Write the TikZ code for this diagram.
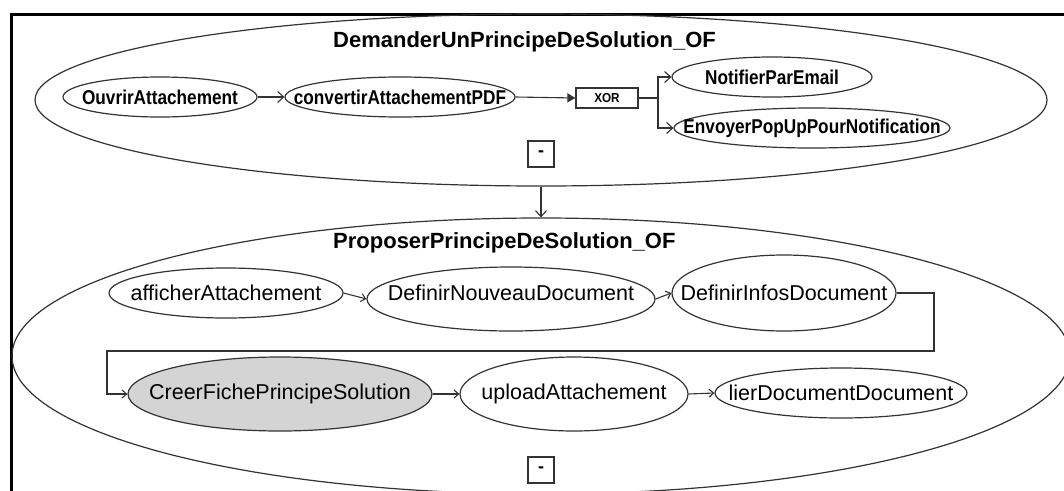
\documentclass[tikz,border=0pt]{standalone}
\usepackage{fontspec}
\setmainfont{Liberation Sans}
\usetikzlibrary{shapes.geometric,arrows.meta}
\definecolor{ln}{HTML}{333333}
\definecolor{gfill}{HTML}{D4D4D4}
\tikzset{
  ell/.style={ellipse,draw=ln,line width=1.2pt,inner sep=0pt},
  cont/.style={ellipse,draw=ln,line width=1.2pt,inner sep=0pt},
  toptxt/.style={inner sep=0pt,font=\fontsize{20}{24}\selectfont\bfseries},
  bottxt/.style={inner sep=0pt,font=\fontsize{21.5}{26}\selectfont},
  title/.style={inner sep=0pt,anchor=base west,font=\fontsize{22}{26}\selectfont\bfseries},
  chev/.style={draw=ln,line width=1.1pt,-{Straight Barb[length=6pt,width=11pt,line width=1.1pt]}},
  sarr/.style={draw=ln,line width=1.1pt,-{Straight Barb[length=4.5pt,width=8pt,line width=1.1pt]}},
  tarr/.style={draw=ln,line width=1.1pt,-{Triangle[length=8pt,width=9pt]}},
  minusbox/.style={draw=ln,line width=1.2pt,minimum width=26pt,minimum height=26pt,inner sep=0pt,font=\fontsize{18}{18}\selectfont\bfseries},
  xorbox/.style={draw=ln,line width=1.2pt,minimum width=62pt,minimum height=20pt,inner sep=0pt,font=\fontsize{13}{13}\selectfont\bfseries}
}
\newcommand{\cnd}[1]{\scalebox{0.86}[1]{#1}}
\begin{document}
\begin{tikzpicture}[x=1pt,y=-1pt]
\useasboundingbox (0,0) rectangle (1064,490);
\clip (0,0) rectangle (1064,490);
\fill[white] (0,0) rectangle (1064,490);
% frame
\draw[black,line width=3pt] (11.5,492) -- (11.5,14) -- (1066,14);

% top container
\node[cont,minimum width=1012pt,minimum height=172pt] (topc) at (541,100) {};
\node[title] (toptitle) at (333,47) {DemanderUnPrincipeDeSolution\_OF};
\node[ell,minimum width=194pt,minimum height=40pt] (ouv) at (160,97) {};
\node[toptxt] at (ouv.center) {\cnd{OuvrirAttachement}};
\node[ell,minimum width=230pt,minimum height=40pt] (conv) at (400,97) {};
\node[toptxt] at (conv.center) {\cnd{convertirAttachementPDF}};
\node[xorbox] (xor) at (607,98) {\scalebox{0.9}[1]{XOR}};
\node[ell,minimum width=200pt,minimum height=40pt] (notif) at (772,77) {};
\node[toptxt] at (notif.center) {\cnd{NotifierParEmail}};
\node[ell,minimum width=276pt,minimum height=40pt] (env) at (812,128) {};
\node[toptxt] at (env.center) {\cnd{EnvoyerPopUpPourNotification}};
\node[minusbox] (m1) at (541,154) {-};
\coordinate (br) at (658,98);
\draw[chev] (ouv.east) -- (conv.west);
\draw[tarr] (conv.east) -- (xor.west);
\draw[draw=ln,line width=1.1pt] (xor.east) -- (br);
\draw[chev] (br) |- (notif.west);
\draw[chev] (br) |- (env.west);

% bottom container
\node[cont,minimum width=1058pt,minimum height=276pt] (botc) at (541,356) {};
\node[title] (bottitle) at (333,248) {ProposerPrincipeDeSolution\_OF};
\draw[chev] (topc.south) -- (botc.north);

\node[ell,minimum width=234pt,minimum height=50pt] (af) at (226,293) {};
\node[bottxt] at (af.center) {afficherAttachement};
\node[ell,minimum width=288pt,minimum height=64pt] (dn) at (511,299) {};
\node[bottxt] at (511,293) {DefinirNouveauDocument};
\node[ell,minimum width=224pt,minimum height=76pt] (di) at (784,293) {};
\node[bottxt] at (di.center) {DefinirInfosDocument};
\node[ell,fill=gfill,minimum width=304pt,minimum height=74pt] (cf) at (280,394) {};
\node[bottxt] at (cf.center) {CreerFichePrincipeSolution};
\node[ell,minimum width=228pt,minimum height=74pt] (up) at (574,394) {};
\node[bottxt] at (up.center) {uploadAttachement};
\node[ell,minimum width=252pt,minimum height=50pt] (li) at (841,393) {};
\node[bottxt] at (li.center) {lierDocumentDocument};
\node[minusbox] (m2) at (541,470) {-};

\coordinate (c1) at (934,351);
\coordinate (c2) at (107,351);
\draw[sarr] (af.east) -- (dn.west);
\draw[sarr] (dn.east) -- (di.west);
\draw[sarr] (di.east) -| (c1) -- (c2) |- (cf.west);
\draw[sarr] (cf.east) -- (up.west);
\draw[sarr] (up.east) -- (li.west);
\end{tikzpicture}
\end{document}
